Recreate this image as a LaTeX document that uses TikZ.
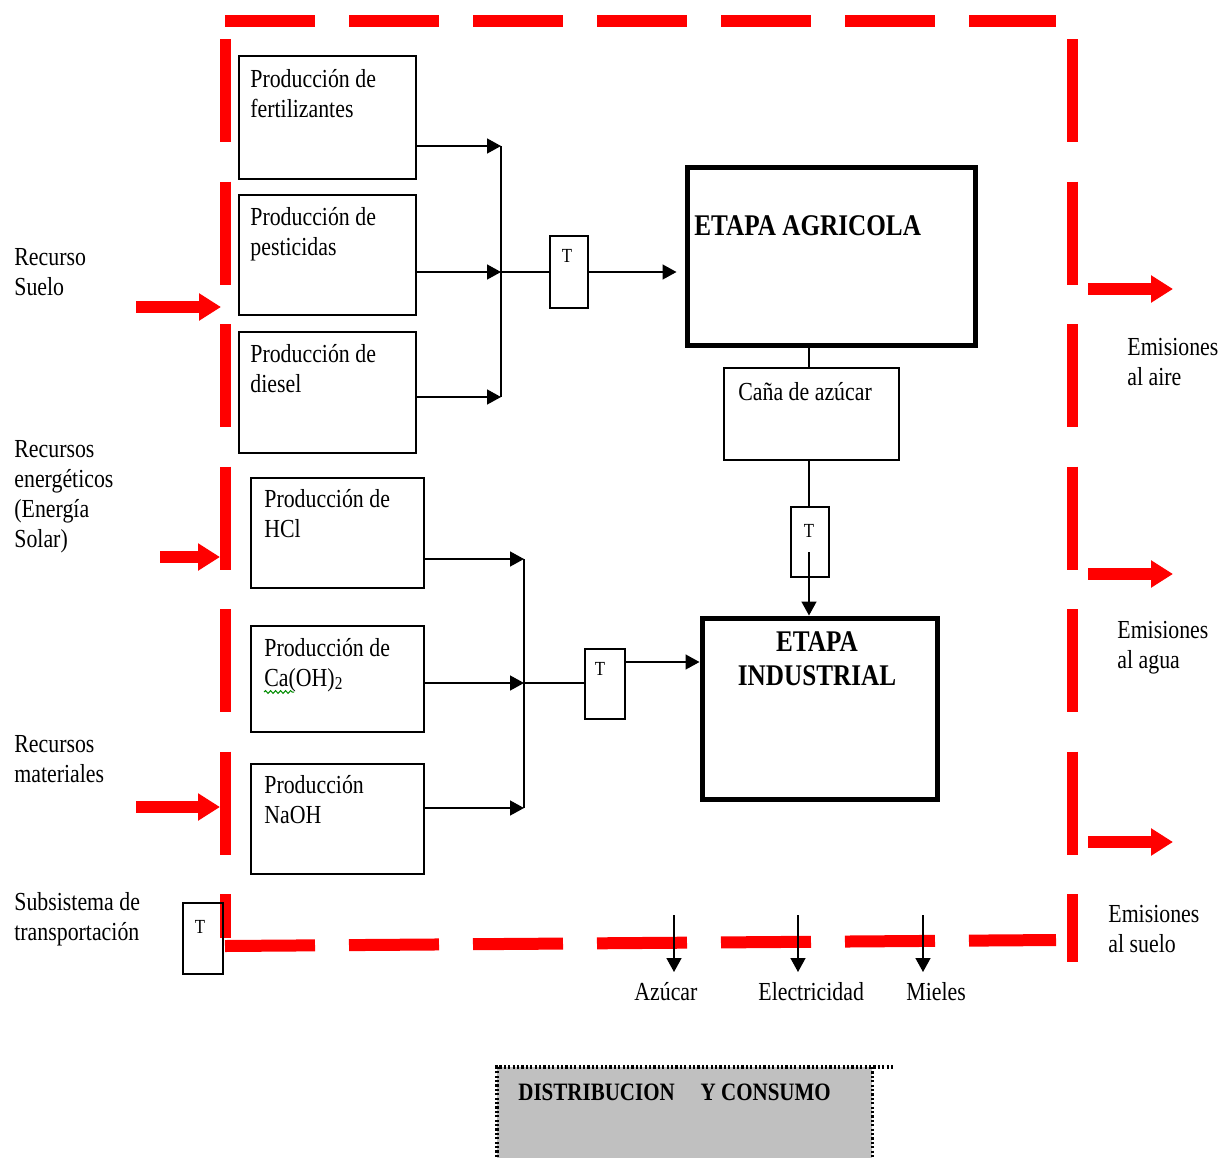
\documentclass[tikz,border=0pt]{standalone}
\usepackage{fontspec}
\setmainfont{Liberation Serif}[FakeStretch=0.84]
\usetikzlibrary{arrows.meta,decorations.pathmorphing}
\definecolor{bred}{RGB}{255,0,0}
\definecolor{dgray}{RGB}{192,192,192}
\begin{document}
\begin{tikzpicture}[x=0.5pt,y=-0.5pt,
  pbox/.style={draw, line width=0.75pt, anchor=north west, inner sep=0pt},
  tbox/.style={draw, line width=2.5pt, anchor=north west, inner sep=0pt},
  txt/.style={anchor=base west, inner sep=0pt, align=left, font=\fontsize{13}{15}\selectfont},
  ttxt/.style={anchor=base, inner sep=0pt, font=\fontsize{10}{12}\selectfont},
  btxt/.style={inner sep=0pt, font=\bfseries\fontsize{15}{17}\selectfont},
  arr/.style={line width=0.75pt, -{Triangle[length=7pt,width=7.5pt]}},
  ln/.style={line width=0.75pt},
  redh/.style={bred, line width=6pt, dash pattern=on 45pt off 17pt},
  redv/.style={bred, line width=5.5pt, dash pattern=on 51.5pt off 19.75pt},
  redarr/.style={bred, line width=6pt, -{Triangle[length=11pt,width=13pt]}},
  dotb/.style={line width=1.6pt, dash pattern=on 1.1pt off 1.1pt},
]
\useasboundingbox (0,0) rectangle (1221,1157);

% ---------- red system boundary ----------
\draw[redh] (225,21) -- (1056,21);
\draw[redh] (225,946) -- (1056,940);
\draw[redv] (225,39) -- (225,938);
\draw[redv] (1072,39) -- (1072,962);

% ---------- red input / output arrows ----------
\coordinate (in1s) at (136,307); \coordinate (in1e) at (221,307);
\coordinate (in2s) at (160,557); \coordinate (in2e) at (220,557);
\coordinate (in3s) at (136,807); \coordinate (in3e) at (220,807);
\coordinate (out1s) at (1088,289); \coordinate (out1e) at (1173,289);
\coordinate (out2s) at (1088,574); \coordinate (out2e) at (1173,574);
\coordinate (out3s) at (1088,842); \coordinate (out3e) at (1173,842);
\draw[redarr] (in1s) -- (in1e);
\draw[redarr] (in2s) -- (in2e);
\draw[redarr] (in3s) -- (in3e);
\draw[redarr] (out1s) -- (out1e);
\draw[redarr] (out2s) -- (out2e);
\draw[redarr] (out3s) -- (out3e);

% ---------- production boxes ----------
\node[pbox, minimum width=88.5pt, minimum height=61.5pt] (fert) at (238,55) {};
\node[pbox, minimum width=88.5pt, minimum height=60pt] (pest) at (238,194) {};
\node[pbox, minimum width=88.5pt, minimum height=60.5pt] (dies) at (238,331) {};
\node[pbox, minimum width=86.5pt, minimum height=55pt] (hcl) at (250,477) {};
\node[pbox, minimum width=86.5pt, minimum height=53pt] (caoh) at (250,625) {};
\node[pbox, minimum width=86.5pt, minimum height=55pt] (naoh) at (250,763) {};

% (base anchor of a multi-line node = baseline of its last line)
\node[txt] (fertT) at (250,117) {Producción de\\fertilizantes};
\node[txt] (pestT) at (250,255) {Producción de\\pesticidas};
\node[txt] (diesT) at (250,392) {Producción de\\diesel};
\node[txt] (hclT) at (264,537) {Producción de\\HCl};
\node[txt] (caohT) at (264,686) {Producción de\\Ca(OH)\textsubscript{2}};
\node[txt] (naohT) at (264,823) {Producción\\NaOH};
\coordinate (sq1) at (264,692); \coordinate (sq2) at (294,692);
\draw[green!55!black, line width=0.5pt, decorate, decoration={snake, amplitude=0.7pt, segment length=2.5pt}] (sq1) -- (sq2);

% ---------- stage boxes ----------
\node[tbox, minimum width=144pt, minimum height=89pt] (agri) at (684.5,164.5) {};
\node[btxt, anchor=base west] (agriT) at (694,235) {ETAPA AGRICOLA};
\node[tbox, minimum width=117.5pt, minimum height=90.5pt] (indus) at (699.5,615.5) {};
\node[btxt, anchor=base, align=center] (indusT) at (817,685) {ETAPA\\INDUSTRIAL};
\node[pbox, minimum width=87.5pt, minimum height=46pt] (cana) at (723,367) {};
\node[txt] (canaT) at (738,400) {Caña de azúcar};

% ---------- transport boxes ----------
\node[pbox, minimum width=19pt, minimum height=36pt] (t1) at (549,235) {};
\node[ttxt] (t1T) at (567,262) {T};
\node[pbox, minimum width=19pt, minimum height=35pt] (t2) at (790,506) {};
\node[ttxt] (t2T) at (809,537) {T};
\node[pbox, minimum width=20pt, minimum height=35pt] (t3) at (584,648) {};
\node[ttxt] (t3T) at (600,675) {T};
\node[pbox, minimum width=20pt, minimum height=35.5pt] (t4) at (182,902) {};
\node[ttxt] (t4T) at (200,933) {T};

% ---------- upper connectors ----------
\coordinate (f1) at (501,146);
\coordinate (p1) at (501,272);
\coordinate (d1) at (501,397);
\draw[arr] (fert.east |- f1) -- (f1);
\draw[arr] (pest.east |- p1) -- (p1);
\draw[arr] (dies.east |- d1) -- (d1);
\draw[ln] (f1) -- (d1);
\draw[ln] (p1) -- (t1.west |- p1);
\draw[arr, shorten >=4pt] (t1.east |- p1) -- (agri.west |- p1);

% ---------- lower connectors ----------
\coordinate (h1) at (524,559);
\coordinate (c1) at (524,683);
\coordinate (n1) at (524,808);
\draw[arr] (hcl.east |- h1) -- (h1);
\draw[arr] (caoh.east |- c1) -- (c1);
\draw[arr] (naoh.east |- n1) -- (n1);
\draw[ln] (h1) -- (n1);
\draw[ln] (c1) -- (t3.west |- c1);
\coordinate (i1) at (660,662);
\draw[arr] (t3.east |- i1) -- (indus.west |- i1);

% ---------- agricultural to industrial ----------
\coordinate (cx) at (809,400);
\draw[ln] (agri.south -| cx) -- (cana.north -| cx);
\draw[ln] (cana.south -| cx) -- (t2.north -| cx);
\coordinate (t2a) at (809,552);
\draw[arr] (t2a) -- (indus.north -| t2a);

% ---------- products ----------
\coordinate (az0) at (674,915); \coordinate (az1) at (674,972);
\coordinate (el0) at (798,915); \coordinate (el1) at (798,972);
\coordinate (mi0) at (923,915); \coordinate (mi1) at (923,972);
\draw[arr] (az0) -- (az1);
\draw[arr] (el0) -- (el1);
\draw[arr] (mi0) -- (mi1);
\node[txt] (azu) at (634,1000) {Azúcar};
\node[txt] (elec) at (758,1000) {Electricidad};
\node[txt] (miel) at (906,1000) {Mieles};

% ---------- side labels ----------
\node[txt] (suelo) at (14,295) {Recurso\\Suelo};
\node[txt] (energ) at (14,547) {Recursos\\energéticos\\(Energía\\Solar)};
\node[txt] (mater) at (14,782) {Recursos\\materiales};
\node[txt] (subs) at (14,940) {Subsistema de\\transportación};
\node[txt] (eaire) at (1127,385) {Emisiones\\al aire};
\node[txt] (eagua) at (1117,668) {Emisiones\\al agua};
\node[txt] (esuelo) at (1108,952) {Emisiones\\al suelo};

% ---------- distribution and consumption ----------
\node[anchor=north west, fill=dgray, minimum width=187.5pt, minimum height=60pt, inner sep=0pt] (dist) at (497,1067) {};
\coordinate (dtr) at (894,1067);
\draw[dotb] (dist.south west) -- (dist.north west) -- (dtr);
\draw[dotb] (dist.north east) -- (dist.south east);
\node[inner sep=0pt, anchor=base west, font=\bfseries\fontsize{12.5}{15}\selectfont] (distT) at (518,1100) {DISTRIBUCION\hspace{13pt}Y CONSUMO};
\end{tikzpicture}
\end{document}
